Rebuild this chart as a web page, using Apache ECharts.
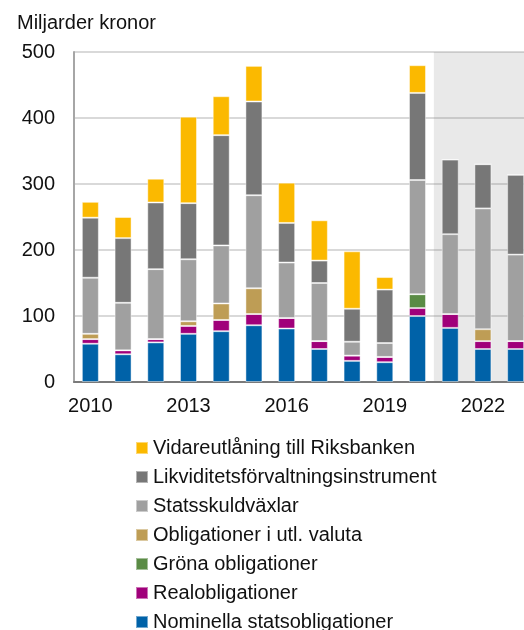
<!DOCTYPE html>
<html>
<head>
<meta charset="utf-8">
<script src="https://cdn.jsdelivr.net/npm/echarts@6/dist/echarts.min.js"></script>
<style>
  html, body { margin: 0; padding: 0; background: #fff; }
  #chart { width: 524px; height: 630px; }
</style>
</head>
<body>
<div id="chart"></div>
<script>
// År (2021-2023 är prognos, skuggat område)
const years = ['2010', '2011', '2012', '2013', '2014', '2015', '2016', '2017', '2018', '2019', '2020', '2021', '2022', '2023']

// Miljarder kronor
const nominella = [58, 42, 60, 73, 77, 86, 81, 50, 32, 30, 100, 82, 50, 50]
const real = [7, 6, 5, 12, 17, 17, 16, 12, 8, 8, 12, 21, 12, 12]
const grona = [0, 0, 0, 0, 0, 0, 0, 0, 0, 0, 21, 0, 0, 0]
const utlValuta = [8, 0, 0, 7, 25, 39, 0, 0, 0, 0, 0, 0, 18, 0]
const statsskuldvaxlar = [85, 72, 106, 94, 88, 141, 84, 88, 21, 21, 173, 121, 183, 131]
const likviditet = [91, 98, 101, 85, 167, 142, 60, 34, 50, 81, 132, 113, 67, 121]
const vidareutlaning = [24, 32, 36, 131, 59, 54, 61, 61, 87, 19, 42, 0, 0, 0]

const forecastStart = 11 // index för 2021

const chart = echarts.init(document.getElementById('chart'))

const txt = '#111'
const font = 'Liberation Sans'

function bar(name, data, color) {
  return {
    name: name,
    type: 'bar',
    stack: 'total',
    barWidth: 17,
    data: data,
    itemStyle: {
      color: color,
      borderColor: 'rgba(255,255,255,0.45)',
      borderWidth: 1
    },
    emphasis: { disabled: true }
  }
}

const option = {
  animation: false,
  textStyle: { fontFamily: font },
  title: {
    text: 'Miljarder kronor',
    left: 12,
    top: 8,
    textStyle: { fontSize: 20, fontWeight: 'normal', color: txt, fontFamily: font }
  },
  legend: {
    orient: 'vertical',
    left: 130,
    top: 433,
    height: 200,
    itemWidth: 12,
    itemHeight: 12,
    itemGap: 9,
    icon: 'rect',
    textStyle: { fontSize: 20, color: txt, fontFamily: font },
    data: [
      'Vidareutlåning till Riksbanken',
      'Likviditetsförvaltningsinstrument',
      'Statsskuldväxlar',
      'Obligationer i utl. valuta',
      'Gröna obligationer',
      'Realobligationer',
      'Nominella statsobligationer'
    ]
  },
  grid: {
    left: 74,
    top: 52,
    width: 458,
    bottom: 248,
    outerBoundsMode: 'none',
    containLabel: false
  },
  xAxis: [
    {
      type: 'category',
      data: years,
      axisLine: { lineStyle: { color: '#7a7a7a', width: 2 } },
      axisTick: { show: false },
      axisLabel: { interval: 2, fontSize: 20, color: txt, margin: 14 }
    },
    {
      type: 'value',
      min: 0,
      max: years.length,
      show: false
    }
  ],
  yAxis: {
    type: 'value',
    min: 0,
    max: 500,
    interval: 100,
    axisLine: { show: true, lineStyle: { color: '#a6a6a6', width: 2 } },
    axisTick: { show: false },
    axisLabel: { fontSize: 20, color: txt, margin: 19 },
    splitLine: { lineStyle: { color: '#d9d9d9', width: 2 } }
  },
  series: [
    bar('Nominella statsobligationer', nominella, '#0062a8'),
    bar('Realobligationer', real, '#a0007a'),
    bar('Gröna obligationer', grona, '#5a8b45'),
    bar('Obligationer i utl. valuta', utlValuta, '#be9d55'),
    bar('Statsskuldväxlar', statsskuldvaxlar, '#a0a0a0'),
    bar('Likviditetsförvaltningsinstrument', likviditet, '#777777'),
    bar('Vidareutlåning till Riksbanken', vidareutlaning, '#fbb900'),
    {
      name: 'prognos',
      type: 'line',
      xAxisIndex: 1,
      data: [],
      z: 20,
      silent: true,
      markArea: {
        silent: true,
        itemStyle: { color: 'rgba(123,123,123,0.17)' },
        data: [[{ xAxis: forecastStart, yAxis: 0 }, { xAxis: years.length, yAxis: 500 }]]
      }
    }
  ]
}

chart.setOption(option)
</script>
</body>
</html>
